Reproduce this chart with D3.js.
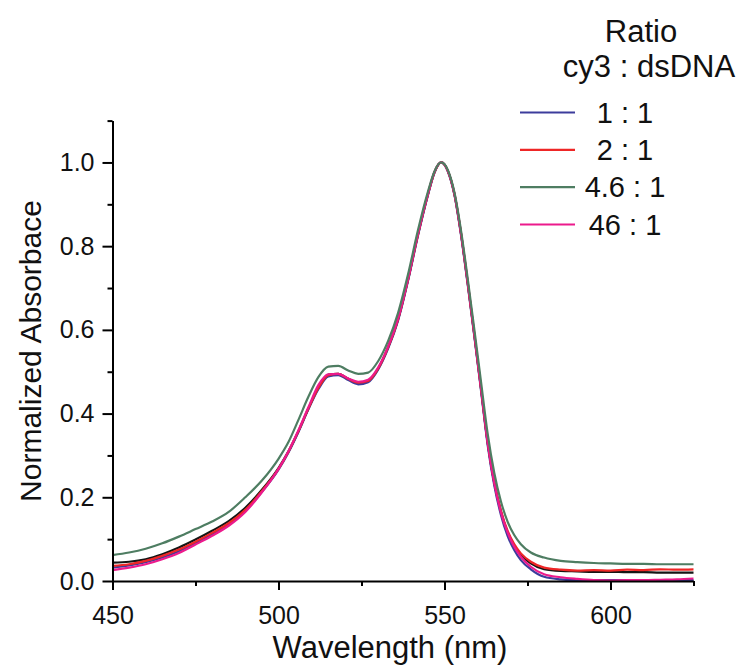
<!DOCTYPE html>
<html>
<head>
<meta charset="utf-8">
<script src="https://cdn.jsdelivr.net/npm/d3@7"></script>
<style>
  body { margin: 0; background: #fff; }
  svg { font-family: "Liberation Sans", Arial, sans-serif; }
</style>
</head>
<body>
<svg id="chart" width="743" height="667"></svg>
<script>
// wavelengths (nm) shared by all spectra
const wavelength = [450,455,460,465,470,475,480,485,490,495,500,503,506,509,512,515,518,521,524,527,530,533,536,539,542,545,547,549,551,553,555,557,559,561,563,565,567,569,571,573,576,580,585,590,595,600,605,610,615,620,625]

// normalized absorbance
const ratio1 = [0.032,0.037,0.045,0.056,0.071,0.090,0.111,0.135,0.168,0.213,0.266,0.307,0.356,0.410,0.458,0.489,0.492,0.480,0.470,0.475,0.505,0.555,0.622,0.717,0.825,0.922,0.976,1.0,0.979,0.922,0.825,0.708,0.584,0.455,0.325,0.228,0.158,0.108,0.074,0.050,0.028,0.010,0.004,0.002,0.002,0.002,0.002,0.002,0.002,0.002,0.002]
const ratio2 = [0.036,0.040,0.048,0.060,0.075,0.094,0.115,0.138,0.170,0.215,0.268,0.309,0.358,0.412,0.461,0.492,0.495,0.483,0.474,0.478,0.507,0.558,0.625,0.720,0.828,0.924,0.977,1.0,0.980,0.924,0.829,0.712,0.588,0.460,0.332,0.236,0.168,0.120,0.088,0.066,0.046,0.032,0.027,0.025,0.026,0.025,0.027,0.026,0.028,0.027,0.028]
const ratio46 = [0.062,0.068,0.077,0.090,0.106,0.124,0.142,0.165,0.200,0.240,0.292,0.332,0.385,0.440,0.487,0.512,0.514,0.503,0.495,0.498,0.525,0.573,0.640,0.732,0.838,0.930,0.979,1.0,0.982,0.928,0.836,0.722,0.600,0.476,0.352,0.258,0.190,0.142,0.110,0.088,0.068,0.056,0.048,0.045,0.043,0.042,0.041,0.041,0.040,0.040,0.040]
const ratio46to1 = [0.026,0.032,0.040,0.052,0.067,0.087,0.108,0.132,0.165,0.212,0.268,0.310,0.360,0.415,0.468,0.494,0.495,0.484,0.476,0.481,0.510,0.560,0.627,0.721,0.830,0.925,0.978,1.0,0.980,0.925,0.830,0.714,0.590,0.462,0.332,0.234,0.164,0.116,0.082,0.058,0.034,0.016,0.009,0.005,0.002,0.001,0.002,0.002,0.003,0.004,0.006]
// unlabelled black trace
const extraTrace = [0.044,0.046,0.052,0.064,0.080,0.099,0.120,0.143,0.175,0.218,0.270,0.310,0.358,0.412,0.462,0.493,0.495,0.483,0.474,0.478,0.507,0.558,0.625,0.719,0.827,0.923,0.977,1.0,0.980,0.924,0.828,0.711,0.587,0.459,0.330,0.234,0.166,0.116,0.084,0.062,0.042,0.028,0.024,0.023,0.022,0.022,0.021,0.021,0.020,0.020,0.020]

const legendTitle = ['Ratio', 'cy3 : dsDNA']
const legendLabels = ['1 : 1', '2 : 1', '4.6 : 1', '46 : 1']
const xMajor = [450, 500, 550, 600]
const xMinor = [475, 525, 575, 625]
const yMajor = [0, 0.2, 0.4, 0.6, 0.8, 1.0]
const yMinor = [0.1, 0.3, 0.5, 0.7, 0.9, 1.1]

const series = [
  {name: 'black', values: extraTrace, color: '#151515'},
  {name: legendLabels[0], values: ratio1, color: '#3c3c9c'},
  {name: legendLabels[1], values: ratio2, color: '#ee2626'},
  {name: legendLabels[3], values: ratio46to1, color: '#ec1a8c'},
  {name: legendLabels[2], values: ratio46, color: '#4e7d62'}
]

const svg = d3.select('#chart')

const x = d3.scaleLinear().domain([450, 625]).range([112.5, 693.5])
const y = d3.scaleLinear().domain([0, 1.1]).range([581, 120.6])

// curves
const line = d3.line()
  .x(d => x(d[0]))
  .y(d => y(d[1]))
  .curve(d3.curveMonotoneX)

svg.append('g')
  .selectAll('path')
  .data(series)
  .join('path')
  .attr('d', s => line(wavelength.map((w, i) => [w, s.values[i]])))
  .attr('fill', 'none')
  .attr('stroke', s => s.color)
  .attr('stroke-width', 2.2)

// axes
const xAxis = svg.append('g').attr('transform', `translate(0,${y(0)})`)
  .call(d3.axisBottom(x).tickValues(xMajor).tickSize(9).tickSizeOuter(0).tickPadding(16).tickFormat(d3.format('d')))
svg.append('g').attr('transform', `translate(0,${y(0)})`)
  .call(d3.axisBottom(x).tickValues(xMinor).tickSize(5).tickSizeOuter(0).tickFormat(''))
  .select('.domain').remove()

const yAxis = svg.append('g').attr('transform', `translate(${x(450)},0)`)
  .call(d3.axisLeft(y).tickValues(yMajor).tickSize(10).tickSizeOuter(0).tickPadding(8).tickFormat(d3.format('.1f')))
svg.append('g').attr('transform', `translate(${x(450)},0)`)
  .call(d3.axisLeft(y).tickValues(yMinor).tickSize(5).tickSizeOuter(0).tickFormat(''))
  .select('.domain').remove()

svg.selectAll('.domain').attr('stroke', '#000').attr('stroke-width', 2)
svg.selectAll('.tick line').attr('stroke', '#000').attr('stroke-width', 2)
svg.selectAll('.tick text').attr('fill', '#111').attr('font-size', 25)
  .attr('font-family', '"Liberation Sans", Arial, sans-serif')

// axis titles
svg.append('text')
  .attr('x', 390).attr('y', 658)
  .attr('text-anchor', 'middle')
  .attr('font-size', 31)
  .attr('fill', '#111')
  .text('Wavelength (nm)')

svg.append('text')
  .attr('transform', 'translate(41,351) rotate(-90)')
  .attr('text-anchor', 'middle')
  .attr('font-size', 30)
  .attr('fill', '#111')
  .text('Normalized Absorbace')

// legend
svg.append('text')
  .attr('x', 641).attr('y', 42)
  .attr('text-anchor', 'middle')
  .attr('font-size', 31)
  .attr('fill', '#111')
  .text(legendTitle[0])
svg.append('text')
  .attr('x', 649).attr('y', 77)
  .attr('text-anchor', 'middle')
  .attr('font-size', 31)
  .attr('fill', '#111')
  .text(legendTitle[1])

const legendColors = ['#3c3c9c', '#ee2626', '#4e7d62', '#ec1a8c']
const legendY = d3.scalePoint().domain(legendLabels).range([112.5, 224.5])

const leg = svg.append('g')
  .selectAll('g')
  .data(legendLabels)
  .join('g')
  .attr('transform', d => `translate(0,${legendY(d)})`)

leg.append('line')
  .attr('x1', 520).attr('x2', 575)
  .attr('stroke', (d, i) => legendColors[i])
  .attr('stroke-width', 2.2)

leg.append('text')
  .attr('x', 625).attr('y', 10)
  .attr('text-anchor', 'middle')
  .attr('font-size', 29)
  .attr('fill', '#111')
  .text(d => d)
</script>
</body>
</html>
